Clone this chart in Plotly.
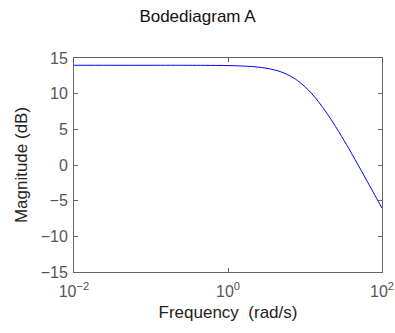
import plotly.graph_objects as go

freq = [0.01, 0.03, 0.1, 0.3, 0.5, 1, 2, 3, 4, 5, 6, 7, 8, 10, 12, 15, 20, 25, 30, 40, 50, 60, 70, 80, 90, 100]
mag_db = [13.98, 13.98, 13.98, 13.98, 13.97, 13.94, 13.81, 13.60, 13.33, 13.01, 12.64, 12.25, 11.83,
          10.97, 10.11, 8.86, 6.99, 5.38, 3.98, 1.68, -0.17, -1.70, -3.01, -4.15, -5.15, -6.06]

x_tickvals = [0.01, 1, 100]
x_ticktext = ["10<sup>\u22122</sup>", "10<sup>0</sup>", "10<sup>2</sup>"]
y_tickvals = [-15, -10, -5, 0, 5, 10, 15]
y_ticktext = ["\u221215", "\u221210", "\u22125", "0", "5", "10", "15"]

FONT = "Liberation Sans, Arial, Helvetica"

fig = go.Figure()
fig.add_trace(go.Scatter(x=freq, y=mag_db, mode="lines",
                         line=dict(color="#0000ff", width=1, shape="spline"),
                         showlegend=False, hoverinfo="skip"))

axis_common = dict(showline=True, linecolor="#666666", linewidth=1, mirror="ticks",
                   ticks="inside", ticklen=4, tickcolor="#666666",
                   showgrid=False, zeroline=False, ticklabeloverflow="allow",
                   automargin=False,
                   tickfont=dict(family=FONT, size=16, color="#555555"))

fig.update_layout(
    template="none",
    width=395, height=333,
    margin=dict(l=74, r=13, t=58, b=61),
    paper_bgcolor="white", plot_bgcolor="white",
    title=dict(text="Bodediagram A", x=0.5, xanchor="center", y=1 - 16 / 333, yanchor="middle",
               font=dict(family=FONT, size=17, color="#111111")),
    xaxis=dict(type="log", range=[-2, 2], tickvals=x_tickvals, ticktext=x_ticktext,
               ticklabelstandoff=5,
               title=dict(text="Frequency  (rad/s)", standoff=6,
                          font=dict(family=FONT, size=17, color="#222222")),
               **axis_common),
    yaxis=dict(range=[-15, 15], tickvals=y_tickvals, ticktext=y_ticktext,
               ticklabelstandoff=2,
               title=dict(text="Magnitude (dB)", standoff=8,
                          font=dict(family=FONT, size=17, color="#222222")),
               **axis_common),
)

fig.write_html("out.html", config={"displayModeBar": False},
               post_script="document.body.style.margin='0';")
